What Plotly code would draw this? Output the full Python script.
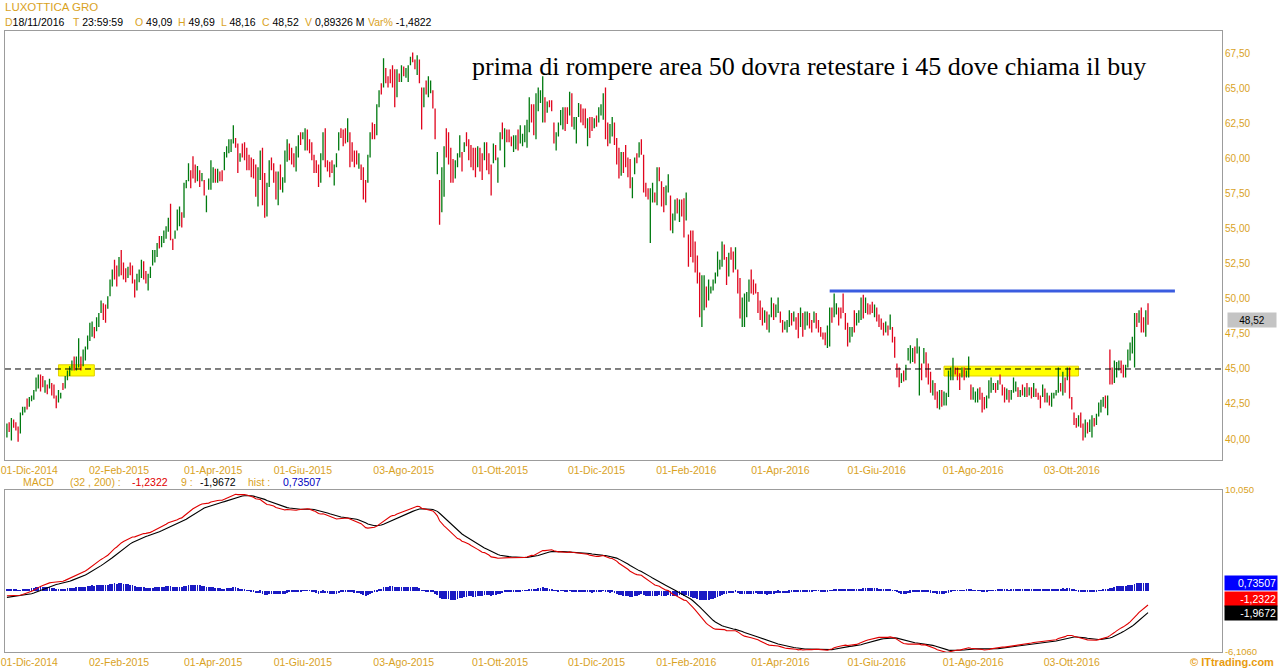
import pandas as pd
import plotly.graph_objects as go

# ---------------- data ----------------
SYMBOL = "LUXOTTICA GRO"
FIRST_DAY = "2014-11-17"
LAST_DAY = "2016-11-18"
HOLIDAYS = ["2014-12-24", "2014-12-25", "2014-12-26", "2014-12-31", "2015-01-01",
            "2015-04-03", "2015-04-06", "2015-05-01", "2015-12-24", "2015-12-25",
            "2015-12-31", "2016-01-01", "2016-03-25", "2016-03-28", "2016-08-15"]
TICK_DATES = ["2014-12-01", "2015-02-02", "2015-04-01", "2015-06-01", "2015-08-03", "2015-10-01",
              "2015-12-01", "2016-02-01", "2016-04-01", "2016-06-01", "2016-08-01", "2016-10-03"]
TICK_TEXT = ["01-Dic-2014", "02-Feb-2015", "01-Apr-2015", "01-Giu-2015", "03-Ago-2015", "01-Ott-2015",
             "01-Dic-2015", "01-Feb-2016", "01-Apr-2016", "01-Giu-2016", "01-Ago-2016", "03-Ott-2016"]
PRICE_TICKS = [40.0, 42.5, 45.0, 47.5, 50.0, 52.5, 55.0, 57.5, 60.0, 62.5, 65.0, 67.5]

OPEN = [
    40.3, 41.0, 40.4, 41.3, 41.0, 40.7, 40.5, 41.8, 42.0, 42.8,
    42.4, 42.8, 42.9, 43.5, 44.0, 44.5, 44.3, 43.6, 43.8, 43.7,
    43.7, 43.7, 43.0, 42.7, 43.0, 43.9, 43.7, 44.3, 44.6, 45.0,
    45.7, 45.1, 45.4, 45.8, 45.3, 45.8, 46.5, 47.2, 47.6, 47.9,
    47.8, 48.2, 49.1, 49.6, 48.8, 49.4, 50.3, 51.1, 52.5, 51.8,
    51.7, 53.2, 52.2, 52.0, 51.6, 52.4, 52.0, 51.2, 50.8, 51.4,
    51.9, 52.6, 51.8, 50.9, 51.6, 52.5, 52.8, 53.2, 54.3, 53.8,
    54.2, 54.5, 55.0, 56.2, 54.2, 54.4, 55.0, 55.5, 56.1, 55.9,
    58.0, 58.5, 59.1, 59.9, 59.4, 58.6, 59.1, 58.5, 58.4, 56.4,
    57.9, 58.0, 58.6, 59.1, 58.5, 59.0, 58.9, 59.3, 60.2, 60.6,
    60.7, 61.3, 61.4, 60.9, 59.9, 61.0, 60.9, 60.5, 60.1, 59.8,
    59.7, 59.2, 57.0, 58.8, 60.4, 58.5, 56.3, 58.2, 60.0, 59.5,
    58.8, 57.0, 59.3, 57.8, 58.6, 60.0, 60.9, 60.5, 60.2, 59.4,
    60.4, 61.8, 61.5, 61.0, 61.9, 61.2, 60.9, 60.1, 59.7, 59.3,
    58.5, 60.2, 61.8, 59.8, 59.5, 59.8, 58.4, 59.5, 60.7, 62.1,
    61.9, 62.0, 61.5, 61.7, 61.0, 60.4, 60.5, 59.5, 59.4, 59.0,
    58.2, 58.5, 60.3, 62.4, 62.2, 61.8, 63.8, 65.3, 65.2, 66.3,
    65.8, 66.2, 66.5, 66.0, 64.6, 66.0, 65.7, 66.4, 65.9, 65.7,
    66.8, 67.5, 67.0, 66.2, 66.9, 64.8, 63.9, 65.4, 64.6, 64.9,
    64.7, 63.4, 59.1, 58.2, 56.5, 57.6, 61.9, 61.5, 60.4, 59.7,
    58.8, 59.6, 60.3, 60.3, 60.6, 61.7, 61.2, 60.8, 60.5, 60.2,
    59.6, 60.5, 60.1, 60.0, 60.9, 60.1, 59.3, 59.9, 60.8, 58.5,
    60.7, 62.4, 60.0, 61.9, 61.8, 61.5, 60.7, 61.0, 61.9, 61.3,
    61.0, 61.4, 61.0, 62.2, 63.7, 63.5, 61.8, 63.6, 64.1, 63.2,
    64.2, 63.4, 64.1, 64.0, 62.4, 60.8, 61.7, 62.5, 62.4, 63.5,
    63.4, 63.2, 64.4, 62.2, 61.4, 63.1, 63.7, 63.4, 63.3, 61.2,
    62.8, 62.9, 62.3, 63.0, 62.7, 63.2, 63.0, 64.8, 62.4, 61.3,
    61.8, 62.4, 61.3, 60.5, 59.0, 60.3, 60.8, 59.9, 59.5, 57.4,
    59.0, 60.3, 60.2, 61.2, 60.1, 58.1, 57.8, 54.6, 57.1, 57.5,
    57.0, 59.2, 58.2, 57.8, 56.8, 57.8, 57.2, 54.9, 55.8, 57.0,
    55.7, 56.9, 57.0, 55.8, 54.4, 54.7, 54.6, 53.8, 52.9, 51.6,
    48.3, 49.5, 50.7, 50.0, 50.5, 50.7, 51.2, 51.8, 52.2, 52.5,
    53.7, 52.8, 51.8, 53.5, 53.1, 52.3, 51.9, 51.3, 48.3, 48.4,
    49.0, 50.0, 51.8, 51.2, 51.0, 50.3, 49.7, 49.2, 48.4, 48.9,
    47.8, 48.8, 49.5, 48.8, 49.2, 49.0, 48.4, 47.9, 47.7, 48.2,
    48.9, 48.5, 48.6, 48.8, 48.1, 48.8, 47.9, 48.3, 48.8, 48.3,
    48.4, 48.8, 48.3, 47.9, 47.5, 47.4, 46.7, 47.1, 49.2, 48.9,
    49.0, 49.3, 49.2, 50.2, 48.9, 48.1, 47.0, 47.4, 49.0, 48.2,
    48.4, 48.7, 50.1, 49.1, 49.6, 49.5, 49.7, 48.8, 49.3, 48.8,
    48.5, 48.2, 47.7, 48.0, 47.9, 47.9, 47.1, 45.3, 44.9, 44.1,
    44.8, 44.3, 45.7, 45.6, 45.7, 46.4, 46.2, 43.4, 45.2, 45.5,
    46.0, 45.2, 44.6, 43.2, 43.8, 43.2, 42.3, 43.3, 42.5, 42.6,
    43.2, 44.3, 44.5, 45.0, 45.0, 44.5, 44.5, 44.9, 44.5, 44.6,
    43.7, 42.9, 42.7, 42.8, 43.5, 43.1, 42.8, 42.3, 43.0, 43.5,
    43.6, 43.9, 43.6, 44.5, 43.8, 43.5, 42.9, 43.4, 42.9, 43.4,
    43.5, 43.6, 43.1, 43.8, 43.1, 43.9, 43.2, 43.6, 43.1, 43.5,
    43.2, 43.0, 43.1, 43.5, 42.7, 43.0, 42.5, 43.0, 43.2, 43.4,
    43.9, 43.4, 44.3, 44.3, 44.9, 42.9, 41.8, 41.3, 41.0, 41.7,
    41.0, 40.3, 41.1, 40.6, 40.4, 41.4, 41.1, 41.7, 42.0, 42.4,
    42.9, 42.0, 46.2, 44.9, 44.2, 44.6, 45.0, 45.5, 45.2, 44.5,
    45.2, 45.8, 46.3, 45.5, 48.9, 48.4, 49.2, 48.5, 47.5, 49.09,
]
HIGH = [
    41.1, 41.2, 41.5, 41.4, 41.2, 40.9, 41.9, 42.3, 42.3, 42.9,
    43.0, 43.1, 43.5, 44.4, 44.6, 44.6, 44.5, 44.2, 43.9, 44.3,
    44.0, 43.9, 43.1, 43.5, 43.3, 44.0, 44.5, 44.9, 45.2, 45.6,
    45.9, 45.9, 47.2, 45.9, 46.4, 46.6, 47.4, 48.3, 48.4, 48.0,
    48.7, 49.0, 49.9, 49.7, 49.6, 50.2, 51.4, 52.1, 52.8, 52.4,
    53.0, 53.5, 52.6, 52.2, 52.3, 52.6, 52.4, 51.4, 51.8, 52.1,
    52.8, 52.7, 52.0, 51.8, 52.3, 53.5, 53.5, 54.0, 54.5, 54.5,
    54.9, 55.2, 55.8, 56.8, 54.3, 54.9, 56.4, 56.6, 56.2, 58.3,
    58.5, 59.7, 59.2, 60.2, 59.6, 59.5, 59.2, 59.0, 58.5, 57.4,
    58.6, 59.9, 59.4, 59.3, 59.3, 59.1, 59.2, 60.5, 60.9, 61.4,
    61.4, 62.4, 61.5, 61.1, 60.4, 61.1, 61.2, 60.8, 60.3, 60.1,
    60.0, 59.6, 59.4, 60.6, 60.8, 59.0, 58.3, 59.9, 60.1, 59.7,
    59.1, 59.1, 59.6, 58.7, 60.6, 61.4, 61.1, 60.8, 60.4, 60.9,
    61.7, 61.9, 61.9, 62.2, 62.1, 61.4, 61.2, 60.3, 59.9, 59.6,
    60.4, 61.9, 62.2, 59.9, 59.8, 59.9, 59.6, 60.4, 61.9, 62.2,
    62.1, 62.2, 62.9, 61.9, 61.2, 60.6, 60.6, 60.4, 59.6, 59.4,
    58.5, 60.3, 61.9, 62.6, 62.5, 63.9, 64.9, 65.4, 67.2, 66.5,
    65.9, 66.4, 66.7, 66.4, 66.4, 66.1, 66.7, 66.6, 66.5, 66.7,
    67.3, 67.6, 67.1, 67.4, 67.1, 65.1, 65.1, 65.6, 65.9, 65.6,
    64.9, 63.6, 60.5, 58.5, 59.4, 60.9, 62.2, 61.9, 60.8, 60.0,
    59.9, 60.4, 61.7, 60.5, 61.2, 61.9, 61.4, 61.0, 60.8, 60.8,
    60.9, 60.8, 60.4, 61.2, 61.2, 60.4, 59.6, 61.1, 61.0, 60.1,
    61.9, 62.6, 62.2, 62.1, 62.1, 61.6, 61.7, 61.7, 62.1, 62.4,
    61.8, 62.4, 62.8, 64.4, 63.9, 63.9, 64.7, 65.1, 64.9, 65.9,
    64.4, 64.1, 64.2, 64.2, 62.6, 61.9, 62.6, 63.5, 63.7, 63.7,
    63.7, 64.8, 64.7, 63.0, 63.0, 64.0, 63.9, 63.6, 63.6, 62.9,
    63.0, 63.0, 62.9, 63.1, 63.7, 63.9, 64.7, 65.1, 62.6, 62.5,
    63.0, 62.6, 61.5, 60.8, 60.5, 60.5, 61.0, 60.1, 60.0, 58.7,
    60.1, 60.4, 61.2, 61.4, 60.3, 58.3, 57.9, 57.9, 58.3, 57.6,
    59.4, 59.4, 58.4, 58.0, 58.1, 58.9, 57.4, 56.1, 57.1, 57.2,
    57.1, 57.1, 57.2, 57.6, 54.6, 54.9, 54.9, 54.1, 53.1, 51.9,
    51.7, 51.7, 50.9, 51.4, 50.9, 51.4, 51.9, 53.4, 52.8, 54.1,
    53.9, 53.0, 53.3, 53.7, 53.4, 53.7, 52.1, 51.5, 50.1, 50.4,
    50.5, 51.4, 52.1, 51.4, 51.1, 50.5, 49.9, 49.4, 49.2, 49.1,
    48.9, 50.1, 49.7, 49.6, 50.1, 49.1, 48.5, 48.4, 48.5, 49.2,
    49.0, 49.1, 48.7, 49.0, 49.4, 49.0, 49.1, 49.1, 49.0, 48.5,
    49.1, 49.0, 48.5, 48.0, 47.6, 47.6, 48.1, 49.4, 49.4, 50.4,
    49.7, 49.4, 49.4, 50.4, 49.0, 48.3, 48.0, 48.0, 49.2, 49.0,
    49.2, 50.1, 50.3, 50.1, 49.7, 49.6, 49.8, 49.6, 49.4, 48.9,
    48.6, 48.3, 48.4, 48.1, 48.9, 48.0, 47.3, 45.4, 45.1, 44.7,
    44.9, 45.3, 46.5, 46.7, 46.5, 46.6, 47.2, 46.6, 45.4, 46.5,
    46.2, 45.4, 44.8, 44.2, 44.0, 43.4, 43.5, 43.5, 43.4, 43.3,
    44.9, 45.1, 45.8, 45.1, 45.1, 44.7, 45.1, 45.1, 44.9, 45.9,
    43.9, 43.7, 43.4, 43.6, 43.7, 43.3, 43.0, 43.1, 44.2, 44.4,
    44.0, 44.0, 44.2, 44.6, 43.9, 43.7, 43.6, 43.5, 43.5, 44.4,
    44.1, 43.7, 43.5, 43.9, 43.7, 44.0, 43.7, 43.7, 44.0, 43.6,
    43.3, 43.1, 43.9, 43.6, 43.3, 43.1, 43.3, 43.3, 43.5, 45.1,
    44.0, 44.8, 44.4, 45.1, 45.1, 43.0, 41.9, 41.5, 41.7, 41.9,
    41.1, 41.4, 41.2, 41.4, 41.7, 41.5, 41.8, 42.6, 42.8, 43.0,
    43.1, 43.1, 46.4, 45.1, 45.6, 45.5, 45.6, 45.6, 45.3, 45.3,
    46.4, 46.9, 47.3, 49.0, 49.0, 49.2, 49.4, 48.7, 49.2, 49.69,
]
LOW = [
    40.1, 40.5, 39.9, 40.8, 40.6, 39.8, 40.4, 41.7, 41.9, 42.1,
    42.3, 42.7, 42.8, 43.4, 43.6, 43.4, 43.7, 43.3, 43.2, 43.6,
    43.1, 42.9, 42.2, 42.6, 42.9, 43.5, 43.6, 44.2, 44.5, 44.9,
    44.9, 44.9, 45.1, 44.9, 45.2, 45.6, 46.4, 47.0, 47.3, 47.2,
    47.7, 48.0, 49.0, 48.5, 48.3, 49.3, 50.2, 50.9, 51.4, 50.9,
    51.6, 51.7, 51.4, 51.2, 51.5, 51.7, 51.1, 50.1, 50.6, 51.2,
    51.5, 51.4, 51.1, 50.6, 51.5, 52.4, 52.6, 53.0, 53.6, 53.7,
    54.0, 54.3, 54.8, 54.2, 53.5, 54.3, 54.9, 55.2, 55.1, 55.8,
    57.9, 58.4, 57.9, 58.6, 58.3, 58.4, 58.0, 58.4, 57.4, 56.2,
    57.8, 57.8, 58.3, 58.3, 58.3, 58.4, 58.4, 59.2, 60.1, 60.4,
    60.5, 61.1, 60.8, 59.0, 59.8, 60.1, 59.9, 59.2, 59.2, 58.7,
    58.6, 57.3, 56.6, 58.5, 56.7, 55.8, 55.9, 58.0, 59.2, 58.3,
    57.1, 56.7, 57.8, 57.6, 58.3, 59.8, 59.9, 59.6, 59.4, 59.1,
    60.1, 61.0, 61.4, 60.6, 60.6, 60.4, 59.9, 59.0, 59.0, 58.0,
    58.3, 59.9, 59.4, 59.1, 58.7, 59.0, 58.1, 59.4, 60.6, 61.5,
    60.9, 61.1, 61.2, 59.4, 59.8, 59.4, 59.6, 59.3, 58.5, 57.1,
    56.9, 58.3, 60.1, 61.4, 61.4, 61.7, 63.7, 64.6, 65.1, 65.4,
    65.1, 65.4, 65.1, 63.7, 64.4, 65.5, 65.5, 65.9, 65.8, 65.5,
    66.7, 66.9, 66.4, 66.0, 65.4, 62.1, 63.7, 64.6, 64.4, 64.7,
    63.6, 61.4, 58.9, 55.3, 56.2, 57.3, 60.1, 59.6, 58.3, 58.3,
    58.6, 59.4, 60.1, 59.1, 60.5, 60.9, 59.9, 59.4, 59.2, 58.7,
    59.4, 59.1, 58.5, 59.9, 59.2, 58.9, 57.4, 59.7, 59.9, 58.3,
    60.6, 61.4, 59.4, 61.2, 61.2, 60.9, 60.5, 60.7, 60.6, 61.1,
    60.9, 61.2, 60.8, 61.9, 62.6, 61.7, 61.4, 63.4, 64.0, 62.6,
    62.6, 63.3, 63.7, 63.4, 61.1, 60.6, 61.6, 62.4, 62.1, 62.0,
    62.5, 63.1, 62.3, 62.1, 61.1, 63.0, 62.6, 62.4, 62.2, 60.9,
    61.5, 62.0, 62.2, 62.3, 62.6, 63.1, 62.8, 61.4, 60.9, 61.1,
    61.6, 61.0, 59.6, 58.6, 58.8, 59.0, 59.4, 58.7, 57.9, 57.2,
    58.9, 59.7, 60.1, 60.3, 57.6, 57.3, 57.1, 54.0, 56.9, 56.9,
    56.7, 58.4, 56.6, 56.2, 56.7, 57.6, 54.9, 54.7, 55.6, 56.1,
    55.5, 55.9, 54.4, 55.6, 52.3, 53.0, 52.6, 51.9, 51.1, 48.7,
    48.0, 49.2, 49.4, 49.9, 50.4, 50.6, 51.1, 51.6, 52.1, 52.3,
    52.8, 51.0, 51.6, 52.8, 51.9, 52.1, 50.4, 48.6, 48.0, 48.0,
    48.7, 49.8, 50.4, 50.3, 50.4, 49.0, 48.5, 48.1, 48.3, 47.8,
    47.6, 48.7, 48.5, 48.7, 49.0, 48.3, 47.6, 47.8, 47.6, 48.0,
    48.1, 48.4, 47.8, 47.2, 48.0, 47.3, 47.8, 48.1, 47.9, 47.6,
    48.3, 47.9, 47.6, 47.3, 47.1, 46.7, 46.5, 46.6, 48.3, 48.7,
    48.9, 48.1, 48.6, 49.0, 47.8, 46.6, 46.9, 47.3, 47.6, 48.1,
    48.3, 48.5, 48.6, 49.0, 48.9, 48.9, 49.0, 48.7, 48.4, 48.0,
    47.8, 47.4, 47.6, 47.4, 47.8, 46.9, 45.8, 44.4, 43.7, 44.0,
    44.1, 44.2, 45.6, 45.4, 45.5, 45.4, 46.1, 43.1, 44.2, 45.4,
    44.4, 43.9, 43.3, 43.1, 42.8, 42.2, 42.1, 42.3, 42.4, 42.4,
    43.0, 44.2, 44.2, 44.6, 44.2, 43.5, 44.4, 44.2, 44.4, 44.4,
    42.8, 42.8, 42.6, 42.6, 42.8, 41.9, 42.1, 42.2, 42.9, 43.3,
    43.5, 43.3, 43.5, 43.9, 43.1, 42.6, 42.8, 42.6, 42.8, 43.3,
    43.4, 43.0, 43.0, 43.1, 43.0, 43.0, 43.1, 42.9, 43.0, 43.0,
    42.8, 42.2, 43.0, 42.6, 42.6, 42.4, 42.3, 42.9, 43.1, 43.3,
    43.4, 43.1, 43.3, 44.2, 42.9, 42.1, 41.0, 40.8, 40.9, 40.8,
    39.9, 40.1, 40.4, 40.5, 40.1, 40.9, 41.0, 41.6, 41.9, 42.3,
    42.2, 41.7, 43.9, 43.9, 44.0, 44.4, 44.9, 44.7, 44.4, 44.4,
    45.1, 45.6, 46.1, 45.1, 48.0, 48.3, 47.6, 47.6, 47.3, 48.16,
]
CLOSE = [
    40.9, 40.6, 41.2, 40.9, 40.7, 40.0, 41.7, 42.2, 42.2, 42.3,
    42.9, 43.0, 43.4, 44.2, 44.5, 43.6, 43.9, 44.1, 43.3, 44.2,
    43.2, 43.0, 42.4, 43.4, 43.2, 43.6, 44.4, 44.8, 45.1, 45.5,
    45.1, 45.7, 46.2, 45.2, 46.2, 46.5, 47.3, 48.1, 48.3, 47.4,
    48.6, 48.9, 49.8, 48.7, 48.5, 50.1, 51.2, 51.9, 51.6, 51.1,
    52.8, 52.0, 51.6, 51.4, 52.2, 51.8, 51.3, 50.3, 51.6, 52.0,
    52.6, 51.6, 51.2, 51.7, 52.2, 53.3, 53.4, 53.9, 53.7, 54.4,
    54.8, 55.1, 55.7, 54.5, 53.7, 54.8, 56.2, 56.4, 55.3, 58.0,
    58.4, 59.5, 58.1, 58.9, 58.5, 59.3, 58.2, 58.9, 57.6, 57.2,
    58.5, 59.6, 59.2, 58.5, 59.1, 58.6, 58.5, 60.3, 60.8, 61.2,
    61.3, 62.2, 60.9, 59.3, 60.3, 60.3, 60.1, 59.4, 59.3, 58.9,
    58.8, 57.6, 59.0, 60.3, 57.1, 56.2, 58.0, 59.6, 59.4, 58.5,
    57.4, 58.8, 58.1, 58.5, 60.3, 61.1, 60.1, 59.8, 59.6, 60.7,
    61.5, 61.2, 61.8, 62.0, 60.9, 60.6, 60.1, 59.2, 59.1, 58.3,
    60.1, 61.6, 59.7, 59.3, 58.9, 59.2, 59.4, 60.2, 61.7, 61.7,
    61.1, 61.4, 62.6, 59.8, 60.0, 59.6, 59.8, 60.2, 58.7, 57.5,
    57.2, 60.0, 61.7, 61.6, 61.6, 63.6, 64.7, 64.8, 66.9, 65.6,
    65.3, 65.6, 65.3, 64.1, 66.1, 65.6, 66.5, 66.0, 66.4, 66.5,
    67.2, 67.0, 66.6, 67.2, 65.7, 62.5, 64.8, 64.8, 65.6, 65.4,
    63.8, 61.7, 60.2, 55.8, 59.0, 60.5, 60.4, 59.9, 58.6, 58.5,
    59.7, 60.2, 61.5, 59.3, 61.1, 61.1, 60.1, 59.6, 59.4, 59.0,
    60.7, 59.4, 58.8, 61.0, 59.5, 59.1, 57.7, 60.9, 60.1, 59.9,
    61.7, 61.6, 61.8, 61.4, 61.3, 61.0, 61.5, 61.6, 60.9, 62.2,
    61.7, 62.2, 62.6, 64.1, 62.8, 62.0, 64.4, 64.9, 64.8, 65.5,
    62.9, 64.0, 63.8, 63.5, 61.3, 61.7, 62.5, 63.3, 63.5, 62.3,
    62.7, 64.5, 62.6, 62.9, 62.8, 63.9, 62.8, 62.6, 62.4, 62.7,
    61.8, 62.2, 62.8, 62.5, 63.5, 63.8, 64.5, 61.8, 61.1, 62.3,
    62.8, 61.3, 59.9, 58.9, 60.2, 59.3, 59.7, 58.9, 58.2, 58.5,
    59.9, 59.8, 61.0, 60.5, 57.9, 57.5, 57.3, 57.6, 58.1, 57.1,
    59.1, 58.6, 56.9, 56.5, 57.9, 58.7, 55.2, 55.9, 56.9, 56.3,
    56.9, 56.1, 54.7, 57.3, 52.6, 53.3, 52.9, 52.2, 51.4, 49.0,
    50.2, 51.3, 49.7, 51.2, 50.8, 51.3, 51.8, 53.2, 52.7, 53.9,
    53.0, 51.3, 53.1, 52.9, 52.2, 53.5, 50.7, 48.9, 49.8, 50.1,
    50.3, 51.2, 50.6, 50.5, 50.6, 49.3, 48.8, 48.3, 49.0, 48.0,
    48.7, 49.9, 48.7, 49.4, 49.9, 48.4, 47.8, 48.3, 48.4, 49.0,
    48.3, 49.0, 47.9, 47.5, 49.2, 47.6, 48.9, 49.0, 48.1, 47.8,
    48.9, 48.1, 47.8, 47.5, 47.2, 46.9, 47.9, 49.1, 48.5, 50.1,
    49.6, 48.3, 48.8, 49.2, 48.0, 46.9, 47.8, 47.9, 47.8, 48.9,
    49.1, 49.9, 48.9, 49.9, 49.1, 49.0, 49.2, 49.5, 48.6, 48.2,
    47.9, 47.6, 48.3, 47.5, 48.7, 47.1, 46.0, 44.6, 43.9, 44.6,
    44.3, 45.1, 46.3, 46.5, 46.4, 45.6, 47.0, 44.9, 44.4, 46.3,
    44.7, 44.1, 43.5, 44.0, 43.0, 42.4, 43.3, 42.5, 43.2, 43.1,
    44.7, 45.0, 45.5, 44.7, 44.4, 43.7, 45.0, 44.4, 44.8, 45.6,
    43.0, 43.5, 43.3, 43.5, 43.0, 42.1, 42.3, 43.0, 44.0, 44.2,
    43.9, 43.4, 44.1, 44.0, 43.3, 42.8, 43.5, 42.8, 43.4, 44.2,
    44.0, 43.1, 43.4, 43.3, 43.6, 43.2, 43.6, 43.0, 43.9, 43.2,
    42.9, 42.4, 43.8, 42.8, 43.2, 42.6, 43.1, 43.2, 43.4, 44.8,
    43.5, 44.6, 43.5, 45.0, 43.2, 42.3, 41.2, 41.0, 41.6, 41.0,
    40.2, 41.2, 40.6, 41.3, 41.5, 41.0, 41.7, 42.5, 42.7, 42.9,
    42.4, 43.0, 44.2, 44.1, 45.4, 45.3, 45.5, 44.9, 44.6, 45.2,
    46.2, 46.7, 47.1, 48.7, 48.2, 49.0, 47.9, 47.8, 49.1, 48.52,
]

# MACD (32, 200) with signal 9, computed from the closes
MACD_FAST, MACD_SLOW, MACD_SIGNAL = 32, 200, 9
SEED_FAST, SEED_SLOW, SEED_SIGNAL = 40.8, 41.3, -0.7
MACD_RANGE = [-6.106, 10.05]
MACD_AXIS_TEXT = ["10,050", "-6,1060"]
MACD_LAST_TEXT = {"macd": "-1,2322", "signal": "-1,9672", "hist": "0,73507"}

HEADER = [("D", "18/11/2016"), ("T ", "23:59:59"), ("O ", "49,09"), ("H ", "49,69"),
          ("L ", "48,16"), ("C ", "48,52"), ("V ", "0,89326 M"), ("Var% ", "-1,4822")]
LAST_PRICE_TEXT = "48,52"
LAST_PRICE = 48.52

SUPPORT = 45.0
RESISTANCE = 50.57
RESISTANCE_FROM = "2016-05-03"
RESISTANCE_BARS_AHEAD = 12
ZONES = [("2014-12-18", "2015-01-16", 44.5, 45.3), ("2016-07-13", "2016-10-06", 44.5, 45.2)]
NOTE = "prima di rompere area 50 dovra retestare i 45 dove chiama il buy"

# ---------------- derived ----------------
days = pd.bdate_range(FIRST_DAY, LAST_DAY)
days = days[~days.isin(pd.to_datetime(HOLIDAYS))]
day_pos = {d.strftime("%Y-%m-%d"): i for i, d in enumerate(days)}
n = len(CLOSE)
xs = list(range(n))


def ema(values, span, seed):
    a = 2.0 / (span + 1)
    e, out = seed, []
    for v in values:
        e += a * (v - e)
        out.append(e)
    return out


fast = ema(CLOSE, MACD_FAST, SEED_FAST)
slow = ema(CLOSE, MACD_SLOW, SEED_SLOW)
macd = [f - s for f, s in zip(fast, slow)]
signal = ema(macd, MACD_SIGNAL, SEED_SIGNAL)
hist = [m - s for m, s in zip(macd, signal)]

# ---------------- styling ----------------
W, H = 1278, 668
ML, MR, MT, MB = 5, 56, 31, 16
GOLD = "#D9A21E"
GREEN = "#007A10"
RED = "#E0061E"
FRAME = "#9C9C9C"
FONT = "Liberation Sans"


def px(x):
    return (x - ML) / (W - ML - MR)


def py(y):
    return (H - MB - y) / (H - MT - MB)


XR = [-0.85, 542]
tickvals = [day_pos[d] for d in TICK_DATES]

fig = go.Figure()
fig.add_trace(go.Ohlc(
    x=xs, open=OPEN, high=HIGH, low=LOW, close=CLOSE,
    increasing=dict(line=dict(color=GREEN, width=1.3)),
    decreasing=dict(line=dict(color=RED, width=1.3)),
    tickwidth=0.1, xaxis="x", yaxis="y", hoverinfo="skip"))
fig.add_trace(go.Bar(x=xs, y=hist, width=0.38, marker=dict(color="#1A1AC4", line=dict(width=0)),
                     xaxis="x2", yaxis="y2", hoverinfo="skip"))
fig.add_trace(go.Scatter(x=xs, y=signal, mode="lines", line=dict(color="#000000", width=1.1),
                         xaxis="x2", yaxis="y2", hoverinfo="skip"))
fig.add_trace(go.Scatter(x=xs, y=macd, mode="lines", line=dict(color="#E00000", width=1.1),
                         xaxis="x2", yaxis="y2", hoverinfo="skip"))

xcommon = dict(range=XR, showgrid=False, zeroline=False, showline=True, mirror=True,
               linecolor=FRAME, linewidth=1, ticks="", tickvals=tickvals, ticktext=TICK_TEXT,
               tickfont=dict(family=FONT, size=10.5, color=GOLD), fixedrange=True, automargin=False)
ycommon = dict(showgrid=False, zeroline=False, showline=True, mirror=True, linecolor=FRAME,
               linewidth=1, side="right", ticks="", tickfont=dict(family=FONT, size=10, color=GOLD),
               fixedrange=True, automargin=False)

shapes = [
    dict(type="line", xref="paper", x0=0, x1=1, yref="y", y0=SUPPORT, y1=SUPPORT,
         line=dict(color="black", width=1, dash="6px,4px"), layer="above"),
    dict(type="line", xref="x", x0=day_pos[RESISTANCE_FROM], x1=n - 1 + RESISTANCE_BARS_AHEAD,
         yref="y", y0=RESISTANCE, y1=RESISTANCE, line=dict(color="#3A5CE0", width=3), layer="above"),
]
for d0, d1, lo, hi in ZONES:
    shapes.append(dict(type="rect", xref="x", x0=day_pos[d0], x1=day_pos[d1], yref="y", y0=lo, y1=hi,
                       fillcolor="#FFFF00", line=dict(color="#E2CF00", width=1), layer="below"))

ann = []
ann.append(dict(text=SYMBOL, xref="paper", yref="paper", x=px(3), y=py(7), xanchor="left",
                yanchor="middle", showarrow=False, font=dict(family=FONT, size=11.5, color=GOLD)))
hx = [3, 71, 133, 176, 219, 260, 303, 366]
for (lab, val), x0 in zip(HEADER, hx):
    ann.append(dict(text=f"<span style='color:{GOLD}'>{lab}</span>{val}", xref="paper", yref="paper",
                    x=px(x0), y=py(22), xanchor="left", yanchor="middle", showarrow=False,
                    font=dict(family=FONT, size=10.5, color="#000000")))
legend_items = [("MACD", 21, GOLD), ("(32 , 200) :", 68, GOLD), (MACD_LAST_TEXT["macd"], 130, "#E00000"),
                ("9 :", 179, GOLD), (MACD_LAST_TEXT["signal"], 198, "#000000"), ("hist :", 246, GOLD),
                (MACD_LAST_TEXT["hist"], 281, "#0000C0")]
for t, x0, c in legend_items:
    ann.append(dict(text=t, xref="paper", yref="paper", x=px(x0), y=py(482), xanchor="left",
                    yanchor="middle", showarrow=False, font=dict(family=FONT, size=10.5, color=c)))
ann.append(dict(text=NOTE, xref="paper", yref="paper", x=px(470), y=py(66), xanchor="left",
                yanchor="middle", showarrow=False, font=dict(family="Liberation Serif", size=26, color="black")))
ann.append(dict(text=LAST_PRICE_TEXT, xref="paper", yref="y", x=1, y=LAST_PRICE, xanchor="left",
                xshift=5, yanchor="middle", showarrow=False, bgcolor="#C4C4C4", width=46, height=12,
                align="center", font=dict(family=FONT, size=10, color="black")))
box_h = 14 / 10.03
sig_y = signal[-1]
macd_y = sig_y + box_h
hist_y = max(hist[-1], macd_y + box_h)
for t, yv, bg in [(MACD_LAST_TEXT["hist"], hist_y, "#0000FF"), (MACD_LAST_TEXT["macd"], macd_y, "#FF0000"),
                  (MACD_LAST_TEXT["signal"], sig_y, "#000000")]:
    ann.append(dict(text=t, xref="paper", yref="y2", x=1, y=yv, xanchor="left", xshift=2,
                    yanchor="middle", showarrow=False, bgcolor=bg, width=50, height=12, align="right",
                    font=dict(family=FONT, size=10.5, color="white")))
ann.append(dict(text="© ITtrading.com", xref="paper", yref="paper", x=px(1276), y=py(662),
                xanchor="right", yanchor="middle", showarrow=False,
                font=dict(family=FONT, size=11, color="#E89C10", weight="bold")))

fig.update_layout(
    width=W, height=H, margin=dict(l=ML, r=MR, t=MT, b=MB, pad=0, autoexpand=False),
    paper_bgcolor="white", plot_bgcolor="white", showlegend=False, hovermode=False,
    separators=",.", bargap=0,
    xaxis=dict(xcommon, domain=[0, 1], anchor="y", rangeslider=dict(visible=False)),
    xaxis2=dict(xcommon, domain=[0, 1], anchor="y2"),
    yaxis=dict(ycommon, domain=[py(460), 1], range=[38.5, 69.14], tickvals=PRICE_TICKS,
               tickformat=".2f", anchor="x"),
    yaxis2=dict(ycommon, domain=[0, py(490)], range=MACD_RANGE, tickvals=MACD_RANGE[::-1],
                ticktext=MACD_AXIS_TEXT, anchor="x2", tickfont=dict(family=FONT, size=9.5, color=GOLD)),
    shapes=shapes, annotations=ann,
)

fig.write_html("out.html", config={"displayModeBar": False},
               post_script="document.body.style.margin='0';document.body.style.overflow='hidden';")
